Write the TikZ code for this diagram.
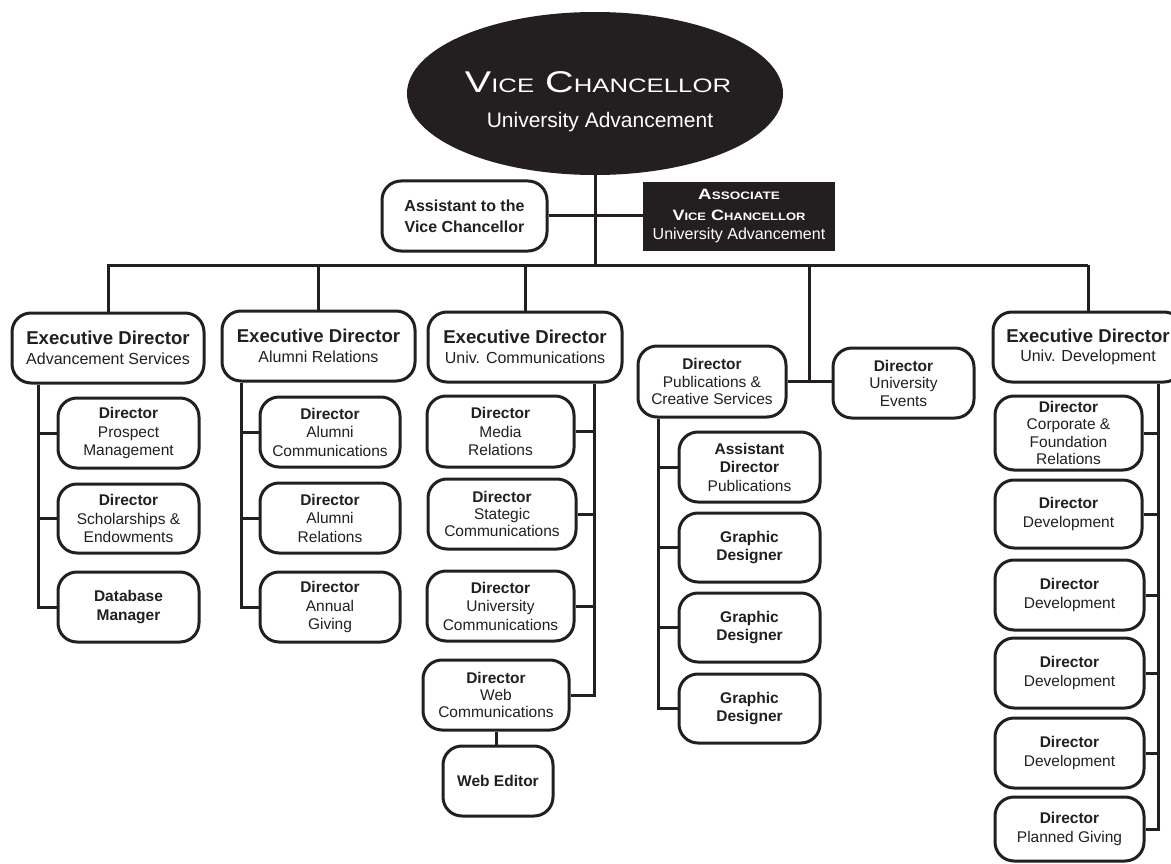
\documentclass[tikz,border=0pt]{standalone}
\usepackage{fontspec}
\setmainfont{Liberation Sans}
\usepackage{graphicx}
\usetikzlibrary{shapes.geometric}
\definecolor{ink}{HTML}{231F20}
\begin{document}
\begin{tikzpicture}[x=1pt,y=-1pt,
  ln/.style={draw=ink, line width=3pt},
  rbox/.style={draw=ink, line width=3pt, rounded corners=19pt, fill=white, align=center, inner sep=0pt, text=ink},
  dirbox/.style={rbox, font=\fontsize{15.5}{18.5}\selectfont},
  execbox/.style={rbox, font=\fontsize{16}{19.5}\selectfont, minimum height=70pt},
  darkbox/.style={fill=ink, text=white, align=center, inner sep=0pt},
]
\useasboundingbox (0,0) rectangle (1171,864);
\clip (0,0) rectangle (1171,864);
\newcommand{\xt}[1]{{\fontsize{18.6}{19.5}\selectfont\bfseries #1}}

% top
\node[ellipse, fill=ink, minimum width=376pt, minimum height=163pt, inner sep=0pt] (vc) at (595,93.5) {};
\node[anchor=base, text=white, inner sep=0pt, font=\fontsize{30}{30}\selectfont] (vct1) at (598,93)
  {\scalebox{1.32}[1]{V{\fontsize{19.5}{19.5}\selectfont ICE} C{\fontsize{19.5}{19.5}\selectfont HANCELLOR}}};
\node[anchor=base, text=white, inner sep=0pt, font=\fontsize{21}{21}\selectfont] (vct2) at (600,128) {University Advancement};

\node[rbox, minimum width=165pt, minimum height=70pt, font=\fontsize{16}{21}\selectfont\bfseries] (asst) at (464.5,216) {Assistant to the\\Vice Chancellor};
\node[darkbox, minimum width=192pt, minimum height=69pt, font=\fontsize{16}{20}\selectfont] (assoc) at (739,216.5)
  {{\bfseries\fontsize{15}{20}\selectfont\scalebox{1.25}[1]{A{\fontsize{10.8}{12}\selectfont SSOCIATE}}}\\
   {\bfseries\fontsize{15}{20}\selectfont\scalebox{1.2}[1]{V{\fontsize{10.8}{12}\selectfont ICE} C{\fontsize{10.8}{12}\selectfont HANCELLOR}}}\\
   University Advancement};

% executive directors
\node[execbox, minimum width=192pt] (ed1) at (108,348) {\xt{Executive Director}\\Advancement Services};
\node[execbox, minimum width=193pt] (ed2) at (318.5,346) {\xt{Executive Director}\\Alumni Relations};
\node[execbox, minimum width=194pt] (ed3) at (525,347) {\xt{Executive Director}\\Univ. Communications};
\node[execbox, minimum width=190pt] (ed4) at (1088,347) {\xt{Executive Director}\\Univ. Development};

% column 1
\node[dirbox, minimum width=141pt, minimum height=70pt] (d1a) at (128.5,433) {\textbf{Director}\\Prospect\\Management};
\node[dirbox, minimum width=141pt, minimum height=69pt] (d1b) at (128.5,518.5) {\textbf{Director}\\Scholarships \&\\Endowments};
\node[dirbox, minimum width=141pt, minimum height=70pt] (d1c) at (128.5,607) {\textbf{Database}\\\textbf{Manager}};

% column 2
\node[dirbox, minimum width=140pt, minimum height=70pt] (d2a) at (330,432) {\textbf{Director}\\Alumni\\Communications};
\node[dirbox, minimum width=140pt, minimum height=70pt] (d2b) at (330,518) {\textbf{Director}\\Alumni\\Relations};
\node[dirbox, minimum width=140pt, minimum height=70pt] (d2c) at (330,607) {\textbf{Director}\\Annual\\Giving};

% column 3
\node[dirbox, minimum width=147pt, minimum height=71pt] (d3a) at (500.5,431.5) {\textbf{Director}\\Media\\Relations};
\node[dirbox, minimum width=148pt, minimum height=70pt, font=\fontsize{15.5}{17}\selectfont] (d3b) at (502,514) {\textbf{Director}\\Stategic\\Communications};
\node[dirbox, minimum width=147pt, minimum height=70pt] (d3c) at (500.5,606) {\textbf{Director}\\University\\Communications};
\node[dirbox, minimum width=146pt, minimum height=70pt, font=\fontsize{15.5}{17}\selectfont] (d3d) at (496,695) {\textbf{Director}\\Web\\Communications};
\node[dirbox, minimum width=110pt, minimum height=70pt] (we) at (498,781) {\textbf{Web Editor}};

% publications and events
\node[dirbox, minimum width=148pt, minimum height=71pt, font=\fontsize{15.5}{17.5}\selectfont] (pub) at (712,381.5) {\textbf{Director}\\Publications \&\\Creative Services};
\node[dirbox, minimum width=141pt, minimum height=70pt, font=\fontsize{15.5}{17.5}\selectfont] (ev) at (903.5,383) {\textbf{Director}\\University\\Events};
\node[dirbox, minimum width=141pt, minimum height=70pt] (p1) at (749.5,467) {\textbf{Assistant}\\\textbf{Director}\\Publications};
\node[dirbox, minimum width=141pt, minimum height=69pt] (p2) at (749.5,547.5) {\textbf{Graphic}\\\textbf{Designer}};
\node[dirbox, minimum width=141pt, minimum height=69pt] (p3) at (749.5,627.5) {\textbf{Graphic}\\\textbf{Designer}};
\node[dirbox, minimum width=141pt, minimum height=69pt] (p4) at (749.5,708.5) {\textbf{Graphic}\\\textbf{Designer}};

% university development
\node[dirbox, minimum width=147pt, minimum height=74pt, font=\fontsize{15.5}{17.5}\selectfont] (u1) at (1068.5,433) {\textbf{Director}\\Corporate \&\\Foundation\\Relations};
\node[dirbox, minimum width=147pt, minimum height=68pt] (u2) at (1068.5,514) {\textbf{Director}\\Development};
\node[dirbox, minimum width=149pt, minimum height=70pt] (u3) at (1069.5,595) {\textbf{Director}\\Development};
\node[dirbox, minimum width=149pt, minimum height=70pt] (u4) at (1069.5,673) {\textbf{Director}\\Development};
\node[dirbox, minimum width=149pt, minimum height=70pt] (u5) at (1069.5,753) {\textbf{Director}\\Development};
\node[dirbox, minimum width=149pt, minimum height=64pt] (u6) at (1069.5,829) {\textbf{Director}\\Planned Giving};

% connectors
\coordinate (busL) at (107,265);
\coordinate (busR) at (1088,265);
\coordinate (evj) at (809,265);
\coordinate (l1) at (38,0);
\coordinate (l2) at (241,0);
\coordinate (l3) at (594,0);
\coordinate (l4) at (658,0);
\coordinate (l5) at (1158,0);

\draw[ln] (busL) -- (busR);
\draw[ln] (vc.south) -- (vc.south |- busL);
\draw[ln] (asst.east) -- (asst.east -| assoc.west);
\draw[ln] (ed1.north |- busL) -- (ed1.north);
\draw[ln] (ed2.north |- busL) -- (ed2.north);
\draw[ln] (ed3.north |- busL) -- (ed3.north);
\draw[ln] (ed4.north |- busL) -- (ed4.north);
\draw[ln] (evj) -- (evj |- pub.east);
\draw[ln] (pub.east) -- (pub.east -| ev.west);

\draw[ln] (ed1.south -| l1) |- (d1c.west);
\draw[ln] (d1a.west) -- (d1a.west -| l1);
\draw[ln] (d1b.west) -- (d1b.west -| l1);

\draw[ln] (ed2.south -| l2) |- (d2c.west);
\draw[ln] (d2a.west) -- (d2a.west -| l2);
\draw[ln] (d2b.west) -- (d2b.west -| l2);

\draw[ln] (ed3.south -| l3) |- (d3d.east);
\draw[ln] (d3a.east) -- (d3a.east -| l3);
\draw[ln] (d3b.east) -- (d3b.east -| l3);
\draw[ln] (d3c.east) -- (d3c.east -| l3);
\draw[ln] (d3d.south) -- (d3d.south |- we.north);

\draw[ln] (pub.south -| l4) |- (p4.west);
\draw[ln] (p1.west) -- (p1.west -| l4);
\draw[ln] (p2.west) -- (p2.west -| l4);
\draw[ln] (p3.west) -- (p3.west -| l4);

\draw[ln] (ed4.south -| l5) |- (u6.east);
\draw[ln] (u1.east) -- (u1.east -| l5);
\draw[ln] (u2.east) -- (u2.east -| l5);
\draw[ln] (u3.east) -- (u3.east -| l5);
\draw[ln] (u4.east) -- (u4.east -| l5);
\draw[ln] (u5.east) -- (u5.east -| l5);
\end{tikzpicture}
\end{document}
